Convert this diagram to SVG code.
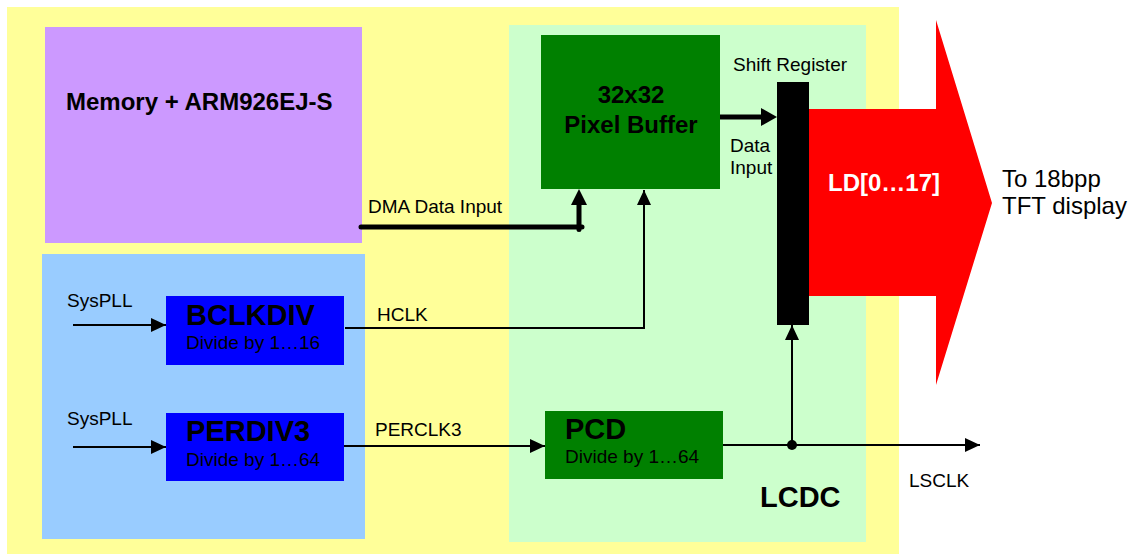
<svg xmlns="http://www.w3.org/2000/svg" width="1131" height="554" viewBox="0 0 1131 554">
<style>
text{font-family:"Liberation Sans",Arial,sans-serif;fill:#000}
.s{font-size:19px}
.m{font-size:24px}
.b{font-weight:bold;font-size:24px}
.h{font-weight:bold;font-size:29px}
.thin{stroke:#000;stroke-width:2;fill:none}
.thick{stroke:#000;stroke-width:5;fill:none}
.head{fill:#000}
</style>
<defs>
<marker id="a" markerUnits="userSpaceOnUse" markerWidth="15" markerHeight="14" refX="15" refY="7" orient="auto"><path d="M0,0L15,7L0,14z" fill="#000"/></marker>
</defs>
<rect id="bg" x="7" y="7" width="892" height="547" fill="#ffff99"/>
<g id="memory"><rect x="45" y="27" width="317" height="216" fill="#cc99ff"/><text class="b" x="66" y="110">Memory + ARM926EJ-S</text></g>
<g id="clockgen"><rect x="42" y="254" width="323" height="285" fill="#99ccff"/></g>
<g id="lcdc"><rect x="509" y="25" width="357" height="517" fill="#ccffcc"/><text class="h" x="760" y="507">LCDC</text></g>
<g id="bclkdiv"><rect x="166" y="296" width="178" height="69" fill="#0000ff"/><text class="h" x="186" y="325">BCLKDIV</text><text class="s" x="186" y="349">Divide by 1…16</text></g>
<g id="perdiv3"><rect x="166" y="413" width="178" height="68" fill="#0000ff"/><text class="h" x="186" y="441">PERDIV3</text><text class="s" x="186" y="466">Divide by 1…64</text></g>
<g id="pixelbuffer"><rect x="541" y="35" width="179" height="154" fill="#008000"/><text class="b" x="631" y="103" text-anchor="middle">32x32</text><text class="b" x="631" y="133" text-anchor="middle">Pixel Buffer</text></g>
<g id="pcd"><rect x="545" y="411" width="178" height="68" fill="#008000"/><text class="h" x="565" y="439">PCD</text><text class="s" x="565" y="463">Divide by 1…64</text></g>
<g id="ldbus"><polygon points="809,109 936,109 936,20 992,203 936,385 936,296 809,296" fill="#ff0000"/><text class="b" x="828" y="191" style="fill:#fff">LD[0…17]</text></g>
<g id="shiftreg"><rect x="777" y="82" width="32" height="243" fill="#000"/><text class="s" x="733" y="71">Shift Register</text></g>
<g id="connectors">
<path class="thick" d="M361,227H582M579,229.5V202" stroke-linecap="round"/>
<polygon class="head" points="571,205 579,189 587,205"/>
<path class="thick" d="M720,117H762"/>
<polygon class="head" points="761,108 777,117 761,126"/>
<path class="thin" d="M345,328H644V190" marker-end="url(#a)"/>
<path class="thin" d="M73,325H166" marker-end="url(#a)"/>
<path class="thin" d="M73,447H166" marker-end="url(#a)"/>
<path class="thin" d="M344,446H545" marker-end="url(#a)"/>
<path class="thin" d="M723,445H980" marker-end="url(#a)"/>
<path class="thin" d="M792,445V325" marker-end="url(#a)"/>
<circle cx="792" cy="445" r="5" fill="#000"/>
<text class="s" x="368" y="213">DMA Data Input</text>
<text class="s" x="730" y="152">Data</text>
<text class="s" x="730" y="174">Input</text>
<text class="s" x="67" y="307">SysPLL</text>
<text class="s" x="67" y="425">SysPLL</text>
<text class="s" x="377" y="321">HCLK</text>
<text class="s" x="375" y="436">PERCLK3</text>
<text class="s" x="909" y="487">LSCLK</text>
</g>
<g id="display-label"><text class="m" x="1002" y="187">To 18bpp</text><text class="m" x="1002" y="214">TFT display</text></g>
</svg>
